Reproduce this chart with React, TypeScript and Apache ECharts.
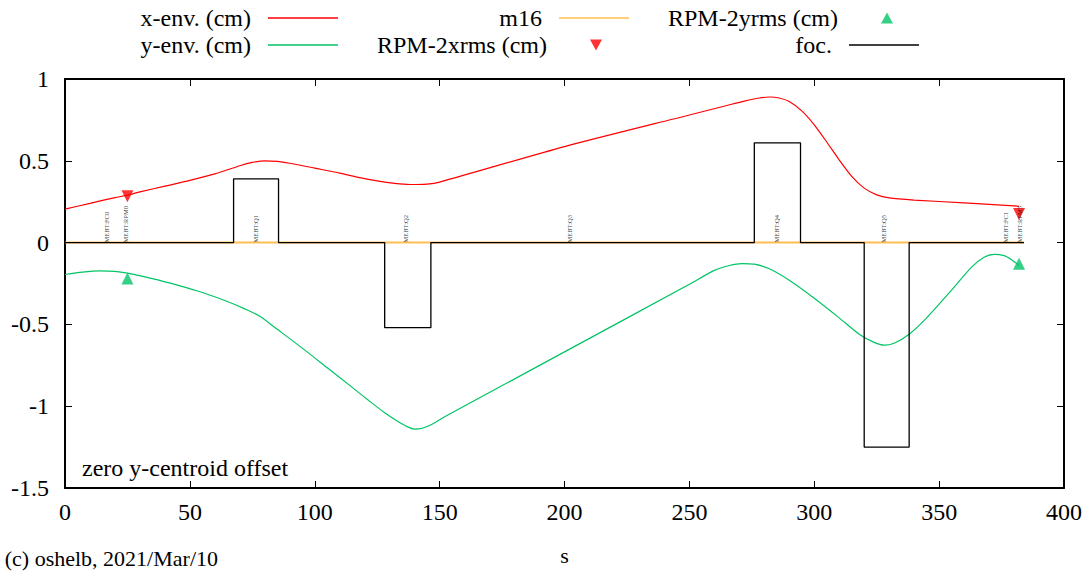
import React, { useEffect, useRef } from "react";
import * as echarts from "echarts";

const FONT = "Liberation Serif";

// x-envelope (cm)
const xEnvS = [0, 10, 20, 25, 30, 40, 50, 60, 70, 75, 80, 85, 90, 100, 110, 118, 125, 132, 138, 145, 150, 200, 250, 265, 272, 278, 282, 286, 290, 295, 300, 305, 310, 315, 320, 325, 330, 340, 360, 382];
const xEnvV = [0.205, 0.24, 0.275, 0.29, 0.31, 0.345, 0.38, 0.42, 0.47, 0.49, 0.5, 0.497, 0.485, 0.455, 0.425, 0.397, 0.377, 0.362, 0.355, 0.358, 0.37, 0.587, 0.78, 0.838, 0.865, 0.884, 0.89, 0.884, 0.862, 0.805, 0.72, 0.615, 0.505, 0.405, 0.333, 0.292, 0.273, 0.26, 0.243, 0.222];

// y-envelope (cm)
const yEnvS = [0, 7, 14, 20, 25, 35, 45, 55, 65, 72, 78, 85, 95, 105, 115, 122, 128, 133, 137, 140, 143, 147, 152, 200, 250, 260, 266, 271, 276, 282, 290, 300, 310, 318, 324, 328, 332, 338, 345, 355, 363, 368, 372, 376, 379, 382];
const yEnvV = [-0.195, -0.18, -0.173, -0.176, -0.187, -0.22, -0.26, -0.305, -0.36, -0.405, -0.45, -0.53, -0.645, -0.765, -0.885, -0.97, -1.04, -1.09, -1.125, -1.14, -1.135, -1.11, -1.065, -0.668, -0.255, -0.17, -0.14, -0.128, -0.132, -0.16, -0.23, -0.34, -0.46, -0.56, -0.61, -0.627, -0.615, -0.56, -0.46, -0.29, -0.15, -0.09, -0.072, -0.08, -0.105, -0.14];

// m16 baseline
const m16S = [0, 384];
const m16V = [0, 0];

// focusing strength (step profile)
const focS = [0, 67.5, 67.5, 85.5, 85.5, 128, 128, 146.5, 146.5, 276, 276, 294.5, 294.5, 320, 320, 338, 338, 384];
const focV = [0, 0, 0.39, 0.39, 0, 0, -0.52, -0.52, 0, 0, 0.61, 0.61, 0, 0, -1.25, -1.25, 0, 0];

// RPM measurements
const rpmXS = [25, 382];
const rpmXV = [0.284, 0.175];
const rpmYS = [25, 382];
const rpmYV = [-0.22, -0.129];

// element labels
const elemNames = ["MEBT:FC0", "MEBT:RPM0", "MEBT:Q1", "MEBT:Q2", "MEBT:Q3", "MEBT:Q4", "MEBT:Q5", "MEBT:FC1", "MEBT:RPM5"];
const elemS = [17.5, 25, 77, 137, 203, 285.5, 328.5, 377.5, 383];

const zip = (s: number[], v: number[]) => s.map((x, i) => [x, v[i]]);

const RED = "#ff0000";
const GREEN = "#00c466";
const ORANGE = "#ffbf50";
const FS = 24;

export default function App() {
  const ref = useRef<HTMLDivElement>(null);
  useEffect(() => {
    if (!ref.current) return;
    const chart = echarts.init(ref.current, undefined, { renderer: "svg" });
    const axisLine = { onZero: false, lineStyle: { color: "#000", width: 2 } };
    const axisTick = { inside: true, length: 7, lineStyle: { color: "#000", width: 1 } };
    const labelStyle = { fontFamily: FONT, fontSize: FS, color: "#000" };
    const lineLegend = (name: string, right: number, top: number, color: string) => ({
      data: [{ name, icon: "rect", itemStyle: { color } }],
      right,
      top,
      orient: "horizontal",
      align: "right",
      padding: 0,
      itemWidth: 70,
      itemHeight: 1.6,
      selectedMode: false,
      textStyle: { fontFamily: FONT, fontSize: FS, color: "#000", padding: [0, 12, 0, 0] },
    });
    const symLegend = (name: string, right: number, top: number, color: string, icon: string) => ({
      data: [{ name, icon, itemStyle: { color } }],
      right,
      top,
      orient: "horizontal",
      align: "right",
      padding: 0,
      itemWidth: 12,
      itemHeight: 11,
      selectedMode: false,
      textStyle: { fontFamily: FONT, fontSize: FS, color: "#000", padding: [0, 38, 0, 0] },
    });
    chart.setOption({
      animation: false,
      backgroundColor: "#fff",
      grid: { left: 65, right: 27, top: 79, bottom: 79, containLabel: false },
      legend: [
        lineLegend("x-env. (cm)", 753, 6, RED),
        lineLegend("y-env. (cm)", 753, 33, GREEN),
        lineLegend("m16", 462, 6, ORANGE),
        symLegend("RPM-2xrms (cm)", 489, 33, RED, "path://M0,0 L10,0 L5,9 Z"),
        symLegend("RPM-2yrms (cm)", 198, 6, GREEN, "path://M5,0 L10,9 L0,9 Z"),
        lineLegend("foc.", 172, 33, "#000"),
      ],
      xAxis: [
        {
          type: "value",
          min: 0,
          max: 400,
          interval: 50,
          position: "bottom",
          axisLine,
          axisTick,
          splitLine: { show: false },
          axisLabel: { ...labelStyle, margin: 12 },
          name: "s",
          nameLocation: "middle",
          nameGap: 56,
          nameTextStyle: { fontFamily: FONT, fontSize: 22, color: "#000" },
        },
        {
          type: "value",
          min: 0,
          max: 400,
          interval: 50,
          position: "top",
          axisLine,
          axisTick,
          splitLine: { show: false },
          axisLabel: { show: false },
        },
      ],
      yAxis: [
        {
          type: "value",
          min: -1.5,
          max: 1,
          interval: 0.5,
          position: "left",
          axisLine,
          axisTick,
          splitLine: { show: false },
          axisLabel: { ...labelStyle, margin: 16 },
        },
        {
          type: "value",
          min: -1.5,
          max: 1,
          interval: 0.5,
          position: "right",
          axisLine,
          axisTick,
          splitLine: { show: false },
          axisLabel: { show: false },
        },
      ],
      graphic: [
        {
          type: "text",
          x: 82,
          y: 468,
          style: { text: "zero y-centroid offset", fill: "#000", font: `${FS}px "${FONT}"`, align: "left", verticalAlign: "middle" },
        },
        {
          type: "text",
          x: 218,
          y: 558,
          style: { text: "(c) oshelb, 2021/Mar/10", fill: "#000", font: `22px "${FONT}"`, align: "right", verticalAlign: "middle" },
        },
      ],
      series: [
        {
          name: "x-env. (cm)",
          type: "line",
          data: zip(xEnvS, xEnvV),
          symbol: "none",
          smooth: 0.25,
          lineStyle: { color: RED, width: 1.2 },
          itemStyle: { color: RED },
        },
        {
          name: "y-env. (cm)",
          type: "line",
          data: zip(yEnvS, yEnvV),
          symbol: "none",
          smooth: 0.25,
          lineStyle: { color: GREEN, width: 1.2 },
          itemStyle: { color: GREEN },
        },
        {
          name: "m16",
          type: "line",
          data: zip(m16S, m16V),
          symbol: "none",
          lineStyle: { color: ORANGE, width: 2 },
          itemStyle: { color: ORANGE },
        },
        {
          name: "foc.",
          type: "line",
          data: zip(focS, focV),
          symbol: "none",
          lineStyle: { color: "#000", width: 1.3 },
          itemStyle: { color: "#000" },
        },
        {
          name: "RPM-2xrms (cm)",
          type: "scatter",
          data: zip(rpmXS, rpmXV),
          symbol: "triangle",
          symbolRotate: 180,
          symbolSize: 12,
          itemStyle: { color: RED },
          z: 5,
        },
        {
          name: "RPM-2yrms (cm)",
          type: "scatter",
          data: zip(rpmYS, rpmYV),
          symbol: "triangle",
          symbolSize: 12,
          itemStyle: { color: GREEN },
          z: 5,
        },
        {
          name: "labels",
          type: "scatter",
          data: elemS.map((s, i) => ({ value: [s, 0], name: elemNames[i] })),
          symbolSize: 0,
          silent: true,
          z: 6,
          label: {
            show: true,
            formatter: (p: any) => p.name,
            position: [0, 0],
            rotate: 90,
            align: "left",
            verticalAlign: "middle",
            offset: [0, -2],
            fontFamily: FONT,
            fontSize: 6.5,
            color: "#000",
          },
        },
      ],
    });
    return () => chart.dispose();
  }, []);
  return (
    <div
      ref={ref}
      style={{ position: "fixed", left: 0, top: 0, width: 1091, height: 571, background: "#fff" }}
    />
  );
}
